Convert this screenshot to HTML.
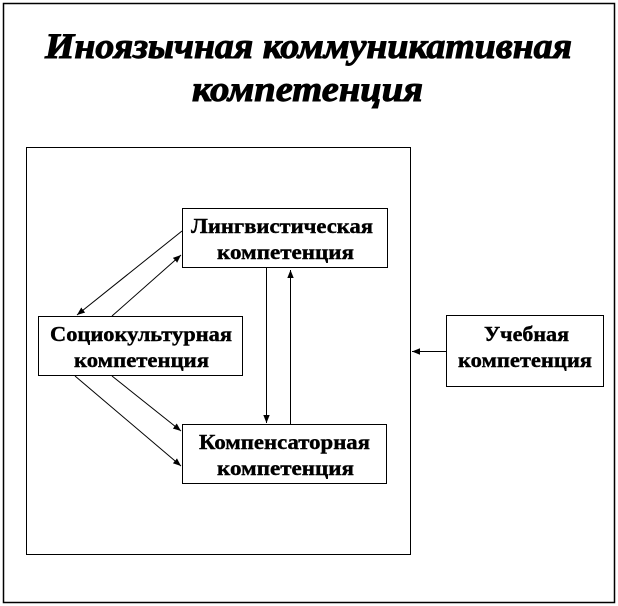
<!DOCTYPE html>
<html><head><meta charset="utf-8"><style>
html,body{margin:0;padding:0;background:#fff;width:618px;height:606px;overflow:hidden}
svg{display:block}
text{font-family:"Liberation Serif",serif;font-weight:bold;fill:#000}
</style></head><body>
<svg width="618" height="606" viewBox="0 0 618 606" xmlns="http://www.w3.org/2000/svg">
<defs><marker id="a" viewBox="0 0 10 10" refX="10" refY="5" markerWidth="8" markerHeight="8" orient="auto" markerUnits="userSpaceOnUse"><path d="M0,1 L10,5 L0,9 z" fill="#000"/></marker></defs>
<rect x="3.5" y="3.5" width="611" height="599" fill="none" stroke="#000" stroke-width="1.5"/>
<g font-style="italic" font-size="36" stroke="#000" stroke-width="1">
<text x="45" y="58" textLength="527" lengthAdjust="spacingAndGlyphs">Иноязычная коммуникативная</text>
<text x="192" y="101" textLength="231" lengthAdjust="spacingAndGlyphs">компетенция</text>
</g>
<rect x="26.5" y="147.5" width="384" height="407" fill="none" stroke="#000"/>
<rect x="182.5" y="208.5" width="205" height="59" fill="none" stroke="#000"/>
<rect x="38.5" y="316.5" width="204" height="59" fill="none" stroke="#000"/>
<rect x="182.5" y="424.5" width="204" height="59" fill="none" stroke="#000"/>
<rect x="446.5" y="315.5" width="157" height="71" fill="none" stroke="#000"/>
<g font-size="21" stroke="#000" stroke-width="0.4" lengthAdjust="spacingAndGlyphs">
<text x="191" y="233" textLength="182" lengthAdjust="spacingAndGlyphs">Лингвистическая</text><text x="217" y="259" textLength="137" lengthAdjust="spacingAndGlyphs">компетенция</text>
<text x="50" y="341" textLength="182" lengthAdjust="spacingAndGlyphs">Социокультурная</text><text x="74" y="367" textLength="135" lengthAdjust="spacingAndGlyphs">компетенция</text>
<text x="199" y="449" textLength="171" lengthAdjust="spacingAndGlyphs">Компенсаторная</text><text x="217" y="475" textLength="137" lengthAdjust="spacingAndGlyphs">компетенция</text>
<text x="484" y="341" textLength="85" lengthAdjust="spacingAndGlyphs">Учебная</text><text x="458" y="367" textLength="134" lengthAdjust="spacingAndGlyphs">компетенция</text>
</g>
<g stroke="#000" stroke-width="1" fill="none" marker-end="url(#a)">
<line x1="182" y1="231" x2="77" y2="315"/>
<line x1="112" y1="316" x2="181" y2="255"/>
<line x1="75" y1="376" x2="181" y2="466"/>
<line x1="112" y1="376" x2="181" y2="431"/>
<line x1="266.5" y1="268" x2="266.5" y2="423"/>
<line x1="290.5" y1="424" x2="290.5" y2="270"/>
<line x1="446" y1="351.5" x2="412" y2="351.5"/>
</g>
</svg>
</body></html>
